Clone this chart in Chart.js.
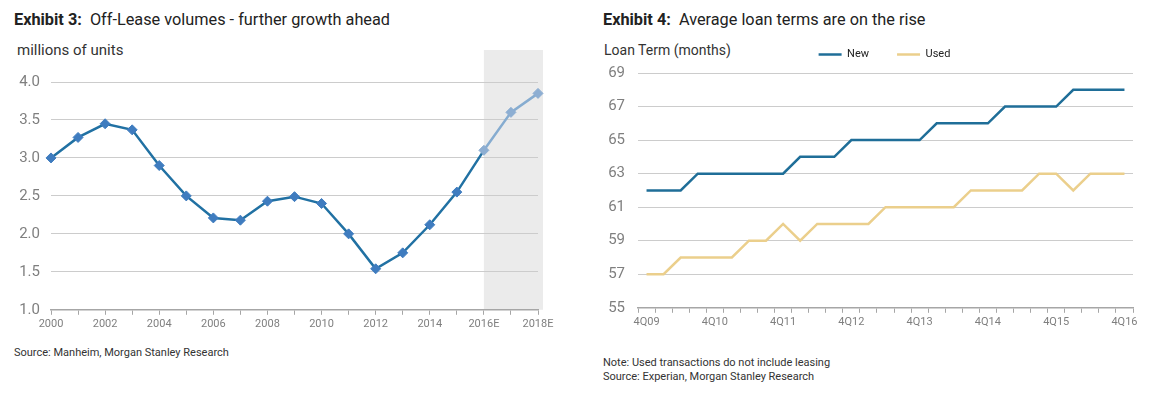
<!DOCTYPE html>
<html>
<head>
<meta charset="utf-8">
<script src="https://cdn.jsdelivr.net/npm/chart.js@4"></script>
<style>
  body { margin: 0; background: #fff; font-family: Roboto, "Noto Sans", sans-serif; color: #222; }
  .page { position: relative; width: 1149px; height: 398px; overflow: hidden; }
  .title { position: absolute; font-size: 16.3px; white-space: nowrap; }
  .title b { font-weight: 700; }
  .unit { position: absolute; font-size: 15px; color: #333; white-space: nowrap; }
  .note { position: absolute; font-size: 11px; color: #333; line-height: 14px; white-space: nowrap; }
  canvas { position: absolute; }
</style>
</head>
<body>
<div class="page">
  <div class="title" style="left:14px; top:10px;"><b>Exhibit 3:</b>&nbsp; Off-Lease volumes - further growth ahead</div>
  <div class="unit" style="left:17px; top:41px;">millions of units</div>
  <canvas id="leaseChart" width="560" height="298" style="left:0; top:40px;"></canvas>
  <div class="note" style="left:14px; top:346px;">Source: Manheim, Morgan Stanley Research</div>

  <div class="title" style="left:603px; top:10px;"><b>Exhibit 4:</b>&nbsp; Average loan terms are on the rise</div>
  <div class="unit" style="left:604px; top:42px; font-size:14px;">Loan Term (months)</div>
  <canvas id="loanChart" width="551" height="317" style="left:598px; top:21px;"></canvas>
  <div class="note" style="left:603px; top:356px;">Note: Used transactions do not include leasing<br>Source: Experian, Morgan Stanley Research</div>
</div>

<script>
// Exhibit 3 data
const years = ["2000", "2001", "2002", "2003", "2004", "2005", "2006", "2007", "2008", "2009",
  "2010", "2011", "2012", "2013", "2014", "2015", "2016E", "2017E", "2018E"];
const offLease = [3.0, 3.27, 3.45, 3.37, 2.9, 2.5, 2.21, 2.18, 2.43, 2.49,
  2.4, 2.0, 1.54, 1.75, 2.12, 2.55, 3.1, 3.6, 3.85];
const forecastFrom = 16; // 2016E onward is estimate

// Exhibit 4 data
const quarters = ["4Q09", "1Q10", "2Q10", "3Q10", "4Q10", "1Q11", "2Q11", "3Q11", "4Q11",
  "1Q12", "2Q12", "3Q12", "4Q12", "1Q13", "2Q13", "3Q13", "4Q13", "1Q14", "2Q14", "3Q14",
  "4Q14", "1Q15", "2Q15", "3Q15", "4Q15", "1Q16", "2Q16", "3Q16", "4Q16"];
const newTerm = [62, 62, 62, 63, 63, 63, 63, 63, 63, 64, 64, 64, 65, 65, 65, 65, 65,
  66, 66, 66, 66, 67, 67, 67, 67, 68, 68, 68, 68];
const usedTerm = [57, 57, 58, 58, 58, 58, 59, 59, 60, 59, 60, 60, 60, 60, 61, 61, 61,
  61, 61, 62, 62, 62, 62, 63, 63, 62, 63, 63, 63];

Chart.defaults.font.family = "Roboto, 'Noto Sans', sans-serif";
Chart.defaults.color = "#7f7f7f";

const gridColor = "#cccccc";
const axisColor = "#a6a6a6";

const forecastShade = {
  id: "forecastShade",
  beforeDraw(chart) {
    const { ctx, chartArea, scales } = chart;
    const x0 = scales.x.getPixelForValue(forecastFrom);
    ctx.save();
    ctx.fillStyle = "#ebebeb";
    ctx.fillRect(x0, chartArea.top - 32, chartArea.right + 5 - x0, chartArea.bottom - chartArea.top + 32);
    ctx.restore();
  },
};

// nudge the legend: a bit more room under it, and shifted right
const legendNudge = {
  id: "legendNudge",
  beforeInit(chart) {
    const fit = chart.legend.fit;
    chart.legend.fit = function () {
      fit.call(this);
      this.height += 3;
    };
  },
  afterLayout(chart) {
    chart.legend.left += 19;
    chart.legend.right += 19;
  },
};

const darkLine = "#2171a3";
const darkMark = "#3f7cbf";
const lightLine = "#86acd0";
const lightMark = "#8daed2";

new Chart(document.getElementById("leaseChart"), {
  type: "line",
  data: {
    labels: years,
    datasets: [{
      label: "Off-Lease volumes",
      data: offLease,
      borderColor: darkLine,
      borderWidth: 2.5,
      tension: 0,
      pointStyle: "rectRot",
      pointRadius: 5,
      pointBorderWidth: 1,
      pointBackgroundColor: (c) => (c.dataIndex >= forecastFrom ? lightMark : darkMark),
      pointBorderColor: (c) => (c.dataIndex >= forecastFrom ? lightMark : darkMark),
      segment: {
        borderColor: (c) => (c.p0DataIndex >= forecastFrom ? lightLine : undefined),
      },
    }],
  },
  options: {
    responsive: false,
    animation: false,
    layout: { padding: { left: 0, right: 22, top: 42, bottom: 4 } },
    plugins: { legend: { display: false }, tooltip: { enabled: false } },
    scales: {
      x: {
        grid: { drawOnChartArea: false, drawTicks: true, tickLength: 5, color: axisColor },
        border: { display: true, color: axisColor, width: 1.5 },
        ticks: {
          autoSkip: false,
          maxRotation: 0,
          font: { size: 11 },
          padding: 3,
          callback: function (v, i) { return i % 2 === 0 ? this.getLabelForValue(v) : ""; },
        },
      },
      y: {
        min: 1,
        max: 4,
        afterFit: (s) => { s.width = 51; },
        grid: { color: gridColor, drawTicks: false },
        border: { display: false },
        ticks: { stepSize: 0.5, padding: 11, font: { size: 15 }, callback: (v) => v.toFixed(1) },
      },
    },
  },
  plugins: [forecastShade],
});

new Chart(document.getElementById("loanChart"), {
  type: "line",
  data: {
    labels: quarters,
    datasets: [
      { label: "New", data: newTerm, borderColor: "#1f6e98", backgroundColor: "#1f6e98", borderWidth: 2.5, pointRadius: 0, tension: 0 },
      { label: "Used", data: usedTerm, borderColor: "#ebcf8c", backgroundColor: "#ebcf8c", borderWidth: 2.5, pointRadius: 0, tension: 0 },
    ],
  },
  options: {
    responsive: false,
    animation: false,
    layout: { padding: { left: 0, right: 16, top: 0, bottom: 6 } },
    plugins: {
      tooltip: { enabled: false },
      legend: {
        position: "top",
        labels: {
          usePointStyle: true,
          pointStyle: "line",
          pointStyleWidth: 23,
          color: "#222",
          font: { size: 11 },
          padding: 28,
        },
      },
    },
    scales: {
      x: {
        offset: true,
        grid: { offset: true, drawOnChartArea: false, drawTicks: true, tickLength: 5, color: axisColor },
        border: { display: true, color: axisColor, width: 1.5 },
        ticks: {
          autoSkip: false,
          maxRotation: 0,
          font: { size: 11 },
          padding: 3,
          callback: function (v) {
            const q = this.getLabelForValue(v);
            return q.startsWith("4Q") ? q : "";
          },
        },
      },
      y: {
        min: 55,
        max: 69,
        afterFit: (s) => { s.width = 40; },
        grid: { color: gridColor, drawTicks: false },
        border: { display: false },
        ticks: { stepSize: 2, padding: 13, font: { size: 15 } },
      },
    },
  },
  plugins: [legendNudge],
});
</script>
</body>
</html>
